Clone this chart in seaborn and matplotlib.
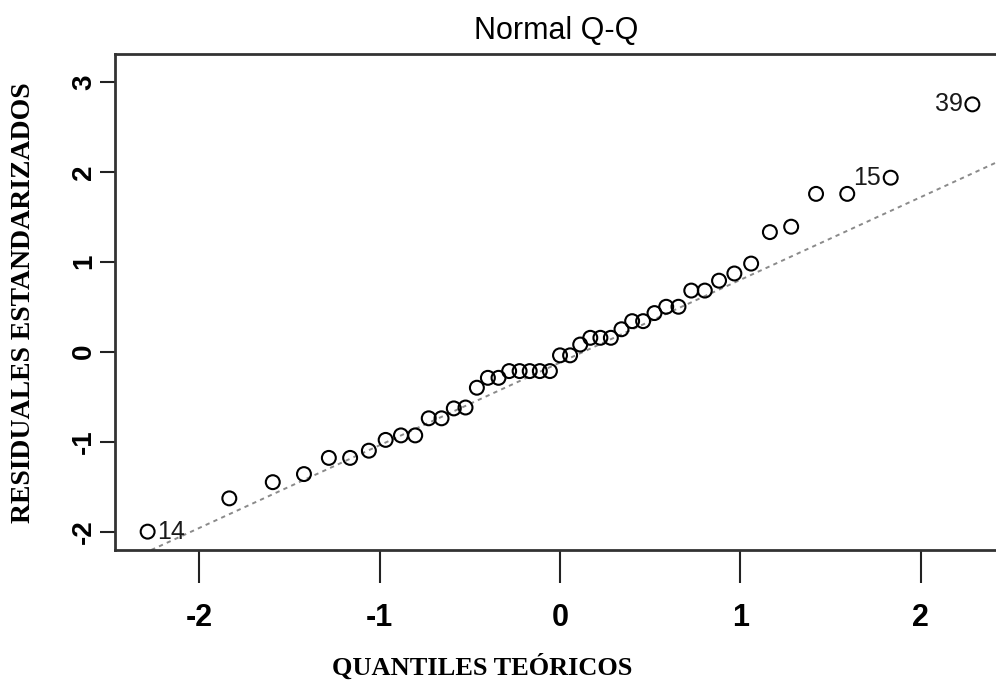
import matplotlib
matplotlib.use("Agg")
import matplotlib.pyplot as plt
import seaborn as sns
import numpy as np
import pandas as pd

# Theoretical normal quantiles (45 observations) read from the x positions
theoretical = [-2.287, -1.834, -1.593, -1.420, -1.282, -1.164, -1.060, -0.967, -0.882,
               -0.803, -0.728, -0.657, -0.589, -0.524, -0.461, -0.400, -0.341, -0.282,
               -0.224, -0.168, -0.112, -0.056, 0.000, 0.056, 0.112, 0.168, 0.224,
               0.282, 0.341, 0.400, 0.461, 0.524, 0.589, 0.657, 0.728, 0.803, 0.882,
               0.967, 1.060, 1.164, 1.282, 1.420, 1.593, 1.834, 2.287]
# Standardized residuals (sorted)
residuals = [-2.00, -1.63, -1.45, -1.36, -1.18, -1.18, -1.10, -0.98, -0.93,
             -0.93, -0.74, -0.74, -0.63, -0.62, -0.40, -0.29, -0.29, -0.215,
             -0.215, -0.215, -0.215, -0.215, -0.04, -0.04, 0.08, 0.155, 0.155,
             0.155, 0.25, 0.34, 0.34, 0.43, 0.50, 0.50, 0.68, 0.68, 0.79,
             0.87, 0.98, 1.33, 1.39, 1.755, 1.755, 1.935, 2.75]
# Labelled observations: index in sorted order -> observation id
label_idx = [0, 43, 44]
label_txt = ["14", "15", "39"]
x_ticks = [-2, -1, 0, 1, 2]
y_ticks = [-2, -1, 0, 1, 2, 3]

df = pd.DataFrame({"q": theoretical, "r": residuals})

sns.set_style("white")
plt.rcParams["font.family"] = ["Liberation Sans", "DejaVu Sans"]
plt.rcParams["text.color"] = "black"
plt.rcParams["xtick.color"] = "black"
plt.rcParams["ytick.color"] = "black"

fig = plt.figure(figsize=(9.96, 6.84), dpi=100)
ax = fig.add_axes([115 / 996, 1 - 550 / 684, 1 - 115 / 996, (550 - 54) / 684])

sns.scatterplot(data=df, x="q", y="r", ax=ax, marker="o", s=100,
                facecolor="none", edgecolor="black", linewidth=1.5, zorder=3)

# reference line through the quartiles (as R's qqline)
q25, q75 = np.quantile(df["r"], [0.25, 0.75])
z25, z75 = -0.6745, 0.6745
slope = (q75 - q25) / (z75 - z25)
intercept = q25 - slope * z25
ax.axline((0, intercept), slope=slope, color="#8a8a8a", linestyle=(0, (2.2, 2.2)),
          linewidth=1.4, zorder=2)

for i, t in zip(label_idx, label_txt):
    xv, yv = df["q"].iloc[i], df["r"].iloc[i]
    if xv < 0:
        ax.annotate(t, (xv, yv), xytext=(7, 0), textcoords="offset points",
                    ha="left", va="center", fontsize=18, color="#1a1a1a")
    else:
        ax.annotate(t, (xv, yv), xytext=(-7, 0), textcoords="offset points",
                    ha="right", va="center", fontsize=18, color="#1a1a1a")

ax.set_xlim(-2.468, 2.418)
ax.set_ylim(-2.204, 3.31)
ax.set_xticks(x_ticks)
ax.set_xticklabels([str(v) for v in x_ticks])
ax.set_yticks(y_ticks)
ax.set_yticklabels([str(v) for v in y_ticks], rotation=90, va="center")

ax.tick_params(axis="x", direction="out", length=24, width=1.5, color="#222222",
               labelsize=22, pad=14, bottom=True, labelcolor="black")
ax.tick_params(axis="y", direction="out", length=11, width=1.5, color="#222222",
               labelsize=20, pad=2, left=True, labelcolor="black")
for lab in ax.get_xticklabels() + ax.get_yticklabels():
    lab.set_fontweight("bold")

for side in ["left", "bottom", "top"]:
    ax.spines[side].set_visible(True)
    ax.spines[side].set_color("#333333")
    ax.spines[side].set_linewidth(2)
ax.spines["right"].set_visible(False)

ax.set_xlabel("")
ax.set_ylabel("")
fig.text(482 / 996, 1 - 667 / 684, "QUANTILES TEÓRICOS", ha="center", va="center",
         family=["Liberation Serif", "DejaVu Serif"], fontweight="bold", fontsize=19)
fig.text(24 / 996, 1 - 303 / 684, "RESIDUALES ESTANDARIZADOS", ha="center", va="center",
         rotation=90, family=["Liberation Serif", "DejaVu Serif"], fontweight="bold",
         fontsize=20)
fig.text(556 / 996, 1 - 31 / 684, "Normal Q-Q", ha="center", va="center", fontsize=22)

fig.savefig("out.png", dpi=100)
